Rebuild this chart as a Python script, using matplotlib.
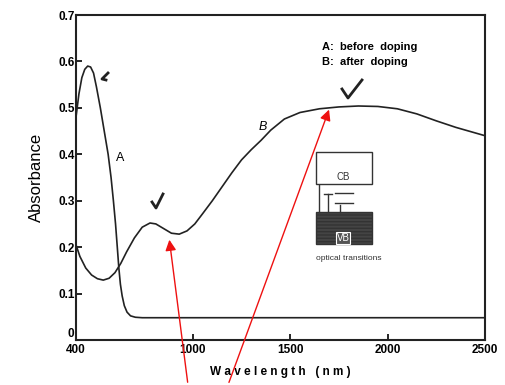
import matplotlib
matplotlib.use("Agg")
import matplotlib.pyplot as plt
from matplotlib.patches import Rectangle, FancyArrowPatch

# ----------------------------------------
# Data
# ----------------------------------------
wl_a = [400, 415, 430, 445, 460, 475, 490, 505, 525, 545, 565, 580, 592,
        603, 612, 620, 628, 637, 648, 662, 680, 705, 740, 2500]
abs_a = [0.48, 0.53, 0.565, 0.583, 0.590, 0.588, 0.575, 0.545, 0.50, 0.45,
         0.40, 0.35, 0.30, 0.25, 0.20, 0.155, 0.12, 0.095, 0.074, 0.06,
         0.052, 0.049, 0.048, 0.048]

wl_b = [400, 420, 450, 480, 510, 540, 570, 600, 630, 660, 700, 740, 780,
        810, 850, 890, 930, 970, 1010, 1050, 1100, 1150, 1200, 1250, 1300,
        1350, 1400, 1470, 1550, 1650, 1750, 1850, 1950, 2050, 2150, 2250,
        2350, 2450, 2500]
abs_b = [0.205, 0.18, 0.155, 0.140, 0.132, 0.129, 0.133, 0.145, 0.165, 0.19,
         0.22, 0.243, 0.252, 0.250, 0.240, 0.230, 0.228, 0.235, 0.250, 0.272,
         0.30, 0.33, 0.36, 0.388, 0.41, 0.43, 0.452, 0.476, 0.490, 0.498,
         0.502, 0.504, 0.503, 0.498, 0.487, 0.472, 0.458, 0.446, 0.440]

x_ticks = [400, 1000, 1500, 2000, 2500]
y_ticks = [0, 0.1, 0.2, 0.3, 0.4, 0.5, 0.6, 0.7]
y_labels = ["0", "0.1", "0.2", "0.3", "0.4", "0.5", "0.6", "0.7"]
legend_lines = ["A:  before  doping", "B:  after  doping"]

W, H = 505, 385


def px(x, y):
    # image pixel -> figure fraction
    return (x / W, 1 - y / H)


fig = plt.figure(figsize=(5.05, 3.85), dpi=100)
ax = fig.add_axes([76 / W, 1 - 340 / H, (485 - 76) / W, (340 - 15) / H])

ax.plot(wl_a, abs_a, color="#222222", lw=1.2)
ax.plot(wl_b, abs_b, color="#222222", lw=1.2)

ax.set_xlim(400, 2500)
ax.set_ylim(0, 0.7)
ax.set_xticks(x_ticks)
ax.set_xticklabels([str(t) for t in x_ticks], fontsize=8.5, fontweight="bold",
                   family="Liberation Sans")
ax.set_yticks(y_ticks)
ax.set_yticklabels(y_labels, fontsize=8.5, fontweight="bold",
                   family="Liberation Sans")
ax.tick_params(direction="in", length=4, width=1.2)
ax.tick_params(axis="x", pad=3)
ax.tick_params(axis="y", pad=1)
# the "0" sits a little above the "400" in the scan
ax.get_yticklabels()[0].set_verticalalignment("bottom")
for s in ax.spines.values():
    s.set_linewidth(1.5)
    s.set_color("#222222")

ax.set_xlabel("W a v e l e n g t h   ( n m )", fontsize=8.5, fontweight="bold",
              family="Liberation Sans", labelpad=7)
ax.set_ylabel("Absorbance", fontsize=12, family="Liberation Sans", labelpad=10)

# curve labels and legend text
fig.text(*px(120, 158), "A", fontsize=9, family="Liberation Sans",
         ha="center", va="center")
fig.text(*px(263, 127), "B", fontsize=9, family="Liberation Sans",
         style="italic", ha="center", va="center")
fig.text(*px(322, 47), legend_lines[0], fontsize=8, fontweight="bold",
         family="Liberation Sans", va="center")
fig.text(*px(322, 62), legend_lines[1], fontsize=8, fontweight="bold",
         family="Liberation Sans", va="center")

# hand-drawn check marks
checks = [
    [(108, 73), (102, 79), (106, 80)],
    [(152, 202), (156, 208), (163, 194)],
    [(342, 89), (348, 98), (362, 80)],
]
for c in checks:
    xs = [px(*p)[0] for p in c]
    ys = [px(*p)[1] for p in c]
    fig.add_artist(plt.Line2D(xs, ys, transform=fig.transFigure,
                              color="#222222", lw=2.0))

# band diagram inset
ink = "#333333"
fig.add_artist(Rectangle(px(316, 184), 56 / W, 32 / H, transform=fig.transFigure,
                         fill=False, ec=ink, lw=1))
fig.text(*px(343, 177), "CB", fontsize=7, family="Liberation Sans",
         ha="center", va="center", color=ink)
fig.add_artist(Rectangle(px(316, 244), 56 / W, 32 / H, transform=fig.transFigure,
                         fc="#444444", ec=ink, lw=1, hatch="-----"))
fig.text(*px(343, 238), "VB", fontsize=7, family="Liberation Sans",
         ha="center", va="center", color="white",
         bbox=dict(fc="#555555", ec="white", lw=0.8, pad=0.5))
for seg in [[(319, 185), (319, 212)], [(328, 194), (328, 212)],
            [(324, 194), (332, 194)], [(335, 193), (353, 193)],
            [(335, 203), (353, 203)], [(340, 212), (340, 205)]]:
    (x0, y0), (x1, y1) = seg
    fig.add_artist(plt.Line2D([x0 / W, x1 / W], [1 - y0 / H, 1 - y1 / H],
                              transform=fig.transFigure, color=ink, lw=1))
fig.text(*px(349, 258), "optical transitions", fontsize=6,
         family="Liberation Sans", ha="center", va="center", color=ink)

# red arrows drawn over the figure
for tail, tip in [((188, 385), (169, 237)), ((228, 385), (330, 107))]:
    fig.add_artist(FancyArrowPatch(px(*tail), px(*tip),
                                   transform=fig.transFigure,
                                   arrowstyle="-|>", mutation_scale=16,
                                   color="#ee1111", lw=1.0))

fig.savefig("out.png", dpi=100)
